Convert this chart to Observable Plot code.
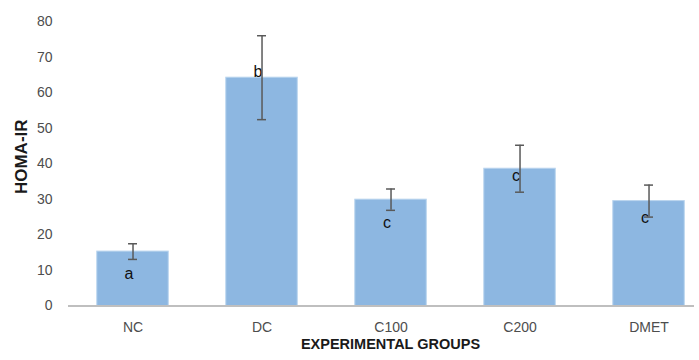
<!DOCTYPE html>
<html>
<head>
<meta charset="utf-8">
<script src="https://cdn.jsdelivr.net/npm/d3@7"></script>
<script src="https://cdn.jsdelivr.net/npm/@observablehq/plot@0.6"></script>
<style>
  html, body { margin: 0; padding: 0; background: #fff; }
  #chart svg { display: block; }
</style>
</head>
<body>
<div id="chart"></div>
<script>
// HOMA-IR by experimental group (mean ± SD) with significance letters
const groups  = ["NC", "DC", "C100", "C200", "DMET"];
const means   = [15.3, 64.2, 29.9, 38.6, 29.5];
const sds     = [2.2, 11.8, 3.0, 6.6, 4.5];
const letters = ["a", "b", "c", "c", "c"];
const letterAt = [9.1, 65.9, 23.5, 36.7, 24.7];
const yTicks  = [0, 10, 20, 30, 40, 50, 60, 70, 80];

const rows = groups.map((g, i) => ({
  group: g,
  mean: means[i],
  lo: means[i] - sds[i],
  hi: means[i] + sds[i],
  letter: letters[i],
  letterY: letterAt[i]
}));

const barColor = "#8db7e1";
const errColor = "#595959";

const chart = Plot.plot({
  width: 699,
  height: 360,
  marginLeft: 68,
  marginRight: 5,
  marginTop: 21,
  marginBottom: 54.5,
  style: {
    fontFamily: "'Liberation Sans', Arial, sans-serif",
    fontSize: "14px",
    color: "#4d4d4d",
    background: "#fff"
  },
  x: {
    domain: groups,
    range: [39.25, 741.8],
    padding: 0.446,
    round: false,
    label: null
  },
  y: {
    domain: [0, 80],
    label: null
  },
  marks: [
    Plot.axisY(yTicks, {tickSize: 0, tickPadding: 16, label: null}),
    Plot.axisX({tickSize: 0, tickPadding: 16, label: null}),
    Plot.barY(rows, {x: "group", y: "mean", fill: barColor, stroke: "#b9d4ee", strokeWidth: 1}),
    Plot.ruleY([0], {stroke: "#bfbfbf", strokeWidth: 2}),
    Plot.text(rows, {
      x: "group", y: "letterY", text: "letter", dx: -4,
      fontSize: 16, fill: "#111"
    }),
    Plot.ruleX(rows, {x: "group", y1: "lo", y2: "hi", stroke: errColor, strokeWidth: 1.5}),
    Plot.tickY(rows, {x: "group", y: "hi", insetLeft: 31.25, insetRight: 31.25, stroke: errColor, strokeWidth: 1.5}),
    Plot.tickY(rows, {x: "group", y: "lo", insetLeft: 31.25, insetRight: 31.25, stroke: errColor, strokeWidth: 1.5}),
    Plot.text(["HOMA-IR"], {
      text: d => d, frameAnchor: "left", rotate: -90,
      textAnchor: "middle", lineAnchor: "middle",
      dx: -47, dy: -7, fontWeight: "bold", fontSize: 17, fill: "#1a1a1a"
    }),
    Plot.text(["EXPERIMENTAL GROUPS"], {
      text: d => d, frameAnchor: "bottom",
      textAnchor: "middle", lineAnchor: "middle",
      dx: 9, dy: 38, fontWeight: "bold", fontSize: 14.5, fill: "#1a1a1a"
    })
  ]
});

document.getElementById("chart").appendChild(chart);
</script>
</body>
</html>
